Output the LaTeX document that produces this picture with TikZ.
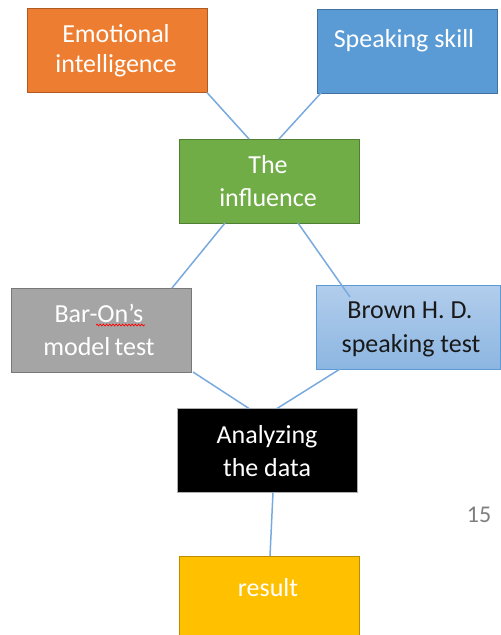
\documentclass[tikz,border=0pt]{standalone}
\usepackage{fontspec}
\setmainfont{Carlito}
\usetikzlibrary{calc,decorations.pathmorphing}
\definecolor{cOrange}{RGB}{237,125,49}
\definecolor{cOrangeB}{RGB}{174,90,33}
\definecolor{cBlue}{RGB}{91,155,213}
\definecolor{cBlueB}{RGB}{65,113,156}
\definecolor{cGreen}{RGB}{112,173,71}
\definecolor{cGreenB}{RGB}{80,126,50}
\definecolor{cGray}{RGB}{165,165,165}
\definecolor{cGrayB}{RGB}{120,120,120}
\definecolor{cLtTop}{RGB}{178,205,236}
\definecolor{cLtBot}{RGB}{140,182,225}
\definecolor{cGold}{RGB}{255,192,0}
\definecolor{cGoldB}{RGB}{188,140,0}
\definecolor{cLine}{RGB}{120,170,222}
\definecolor{cNum}{RGB}{127,127,127}
\tikzset{
  box/.style={rectangle, inner sep=0pt, outer sep=0pt, minimum width=180pt, minimum height=84pt, line width=0.8pt},
  txt/.style={inner sep=0pt, anchor=base, text=white, font=\fontsize{26}{30}\selectfont},
  conn/.style={draw=cLine, line width=1.5pt},
}
\begin{document}
\begin{tikzpicture}[x=1pt,y=-1pt]
\useasboundingbox (0,0) rectangle (501,635);
\clip (0,0) rectangle (501,635);
% boxes
\node[box, fill=cOrange, draw=cOrangeB] (ei) at (117,50.5) {};
\node[box, fill=cBlue, draw=cBlueB] (ss) at (407,51) {};
\node[box, fill=cGreen, draw=cGreenB] (inf) at (269,181) {};
\node[box, fill=cGray, draw=cGrayB] (bar) at (101,330) {};
\node[box, top color=cLtTop, bottom color=cLtBot, draw=cBlue, minimum width=184pt] (brown) at (408,327) {};
\node[box, fill=black, draw=cGrayB!60] (ana) at (267,450.5) {};
\node[box, fill=cGold, draw=cGoldB, minimum height=110pt] (res) at (269,611) {};
% texts
\node[txt] (ei1) at (116,42) {Emotional};
\node[txt] (ei2) at (116,72) {intelligence};
\node[txt] (ss1) at (404,47) {Speaking skill};
\node[txt] (inf1) at (268,173) {The};
\node[txt] (inf2) at (268,206) {influence};
\node[txt] (bar1) at (99,322) {Bar-On’s};
\node[txt] (bar2) at (99,355) {model\kern-1.5pt\ test};
\node[txt, text=black!90] (br1) at (410,318) {Brown H. D.};
\node[txt, text=black!90] (br2) at (411,352) {speaking test};
\node[txt] (ana1) at (267,443) {Analyzing};
\node[txt] (ana2) at (267,476) {the data};
\node[txt] (res1) at (268,596) {result};
\node[inner sep=0pt, anchor=base, text=cNum, font=\fontsize{24}{28}\selectfont] (pg) at (479,522) {15};
% spell-check squiggle
\draw[red, line width=0.7pt, decorate, decoration={snake, segment length=3.2pt, amplitude=0.9pt}] (96,325) -- (145,325);
% connectors
\draw[conn] (ei.south east) -- ($(inf.north west)+(70,0)$);
\draw[conn] ($(ss.south west)+(4,0)$) -- ($(inf.north west)+(100,0)$);
\draw[conn] ($(inf.south west)+(46,0)$) -- ($(bar.north west)+(161,0)$);
\draw[conn] ($(inf.south west)+(119,0)$) -- ($(brown.north west)+(34,12)$);
\draw[conn] ($(bar.south east)+(2,0)$) -- ($(ana.north west)+(72,0)$);
\draw[conn] ($(brown.south west)+(24,0)$) -- ($(ana.north west)+(100,0)$);
\draw[conn] ($(ana.south west)+(96,0)$) -- ($(res.north west)+(91,0)$);
\end{tikzpicture}
\end{document}
